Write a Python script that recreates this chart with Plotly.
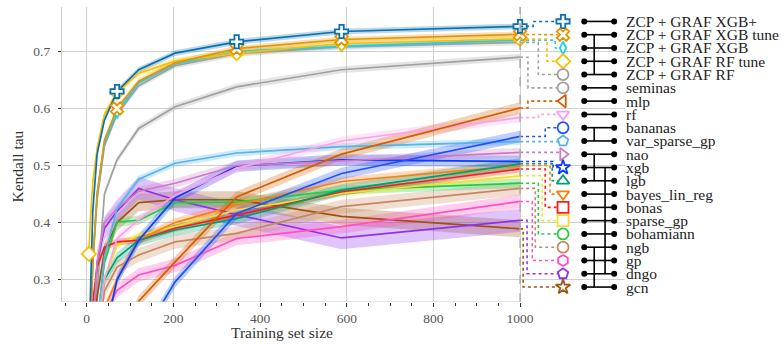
import plotly.graph_objects as go

# ---------------- data ----------------
train_sizes = [5, 8, 14, 24, 41, 70, 120, 204, 346, 588, 1000]

zcp_graf_xgb_plus = [0.10, 0.26, 0.42, 0.52, 0.580, 0.630, 0.668, 0.697, 0.717, 0.735, 0.744]
zcp_graf_xgb_tune = [0.05, 0.20, 0.33, 0.45, 0.545, 0.600, 0.648, 0.680, 0.705, 0.721, 0.730]
zcp_graf_xgb = [0.05, 0.20, 0.33, 0.45, 0.540, 0.593, 0.645, 0.678, 0.700, 0.709, 0.720]
zcp_graf_rf_tune = [0.345, 0.40, 0.47, 0.53, 0.590, 0.628, 0.662, 0.683, 0.697, 0.714, 0.722]
zcp_graf_rf = [0.05, 0.20, 0.33, 0.44, 0.535, 0.590, 0.640, 0.675, 0.696, 0.708, 0.716]
seminas = [0.00, 0.10, 0.15, 0.28, 0.450, 0.510, 0.565, 0.603, 0.638, 0.668, 0.690]
mlp = [0.00, 0.00, 0.02, 0.05, 0.10, 0.18, 0.262, 0.331, 0.445, 0.520, 0.601]
rf = [0.00, 0.02, 0.10, 0.20, 0.30, 0.372, 0.405, 0.448, 0.495, 0.543, 0.584]
bananas = [0.00, 0.00, 0.00, 0.02, 0.06, 0.12, 0.19, 0.296, 0.416, 0.486, 0.551]
var_sparse_gp = [0.00, 0.02, 0.10, 0.22, 0.34, 0.425, 0.476, 0.504, 0.522, 0.533, 0.542]
nao = [0.00, 0.05, 0.20, 0.33, 0.40, 0.425, 0.455, 0.469, 0.500, 0.508, 0.523]
xgb = [0.00, 0.00, 0.02, 0.10, 0.20, 0.300, 0.369, 0.443, 0.499, 0.510, 0.507]
lgb = [0.00, 0.02, 0.10, 0.20, 0.30, 0.338, 0.369, 0.387, 0.407, 0.457, 0.503]
bayes_lin_reg = [0.00, 0.02, 0.10, 0.18, 0.25, 0.300, 0.370, 0.400, 0.431, 0.472, 0.500]
bonas = [0.00, 0.15, 0.26, 0.322, 0.357, 0.366, 0.369, 0.390, 0.413, 0.454, 0.494]
sparse_gp = [0.00, 0.05, 0.15, 0.24, 0.30, 0.360, 0.378, 0.393, 0.422, 0.451, 0.482]
bohamiann = [0.00, 0.02, 0.10, 0.22, 0.33, 0.401, 0.404, 0.435, 0.436, 0.457, 0.469]
ngb = [0.00, 0.02, 0.10, 0.18, 0.28, 0.322, 0.343, 0.366, 0.381, 0.428, 0.460]
gp = [0.00, 0.02, 0.10, 0.18, 0.24, 0.281, 0.308, 0.325, 0.372, 0.393, 0.437]
dngo = [0.00, 0.05, 0.20, 0.33, 0.39, 0.420, 0.460, 0.440, 0.414, 0.373, 0.404]
gcn = [0.00, 0.05, 0.15, 0.27, 0.35, 0.400, 0.435, 0.440, 0.440, 0.411, 0.389]

labels = ["ZCP + GRAF XGB+", "ZCP + GRAF XGB tune", "ZCP + GRAF XGB", "ZCP + GRAF RF tune",
          "ZCP + GRAF RF", "seminas", "mlp", "rf", "bananas", "var_sparse_gp", "nao", "xgb",
          "lgb", "bayes_lin_reg", "bonas", "sparse_gp", "bohamiann", "ngb", "gp", "dngo", "gcn"]
series = [zcp_graf_xgb_plus, zcp_graf_xgb_tune, zcp_graf_xgb, zcp_graf_rf_tune, zcp_graf_rf,
          seminas, mlp, rf, bananas, var_sparse_gp, nao, xgb, lgb, bayes_lin_reg, bonas,
          sparse_gp, bohamiann, ngb, gp, dngo, gcn]
band_halfwidth = [0.005, 0.005, 0.004, 0.006, 0.005, 0.006, 0.010, 0.008, 0.010, 0.006, 0.008,
                  0.010, 0.010, 0.008, 0.006, 0.006, 0.008, 0.012, 0.012, 0.020, 0.015]
# critical-difference groups (first row, last row)
cd_groups = [(1, 4), (8, 9), (10, 12), (11, 19), (17, 20)]

# ---------------- style ----------------
colors = ["#0A72B0", "#E69500", "#1CCFF5", "#F7C000", "#A0A0A0", "#A0A0A0", "#D55E00",
          "#FBA2E6", "#1F50FF", "#56B4E9", "#CC7AC4", "#0A3DFF", "#009E73", "#FF7F0E",
          "#FF1A1A", "#EEE030", "#22CC44", "#C8875E", "#FF4FC0", "#9030F0", "#A0520F"]
symbols = ["cross", "x", "diamond-tall", "diamond", "circle", "circle", "triangle-left",
           "triangle-down", "circle", "pentagon", "triangle-right", "star", "triangle-up",
           "triangle-down", "square", "square", "circle", "circle", "hexagon", "pentagon", "star"]
connector_x = [1030, 1009, 1081, 1062, 1042, 1018, 1018, 1042, 1058, 1090, 1090, 1076, 1074,
               1069, 1058, 1051, 1042, 1035, 1028, 1016, 1007]
draw_order = [4, 5, 20, 19, 18, 17, 16, 15, 14, 13, 12, 11, 10, 9, 8, 7, 6, 2, 3, 1, 0]
line_marker_idx = [0, 5, 8, 9, 10]

SERIF = "Liberation Serif, Times New Roman, DejaVu Serif, serif"
Y_MIN, Y_MAX = 0.2607, 0.778
X_MIN, X_MAX = -57, 1242
LEG_MARK_X, CD_X0, CD_X1, LABEL_X = 1099, 1148, 1217, 1240
CD_BAR_X = [1171, 1171, 1171, 1196, 1171]
ROW_TOP, ROW_STEP = 0.7527, 0.02329
W, H = 784, 344


def rgba(hexc, a):
    h = hexc.lstrip("#")
    return "rgba(%d,%d,%d,%.2f)" % (int(h[0:2], 16), int(h[2:4], 16), int(h[4:6], 16), a)


fig = go.Figure()

# bands
for i in draw_order:
    ys = series[i]
    hw = band_halfwidth[i]
    up = [v + hw for v in ys]
    lo = [v - hw for v in ys]
    fig.add_trace(go.Scatter(x=train_sizes + train_sizes[::-1], y=up + lo[::-1], fill="toself",
                             fillcolor=rgba(colors[i], 0.28), line=dict(width=0),
                             hoverinfo="skip", showlegend=False))
# lines
for i in draw_order:
    fig.add_trace(go.Scatter(x=train_sizes, y=series[i], mode="lines",
                             line=dict(color=colors[i], width=1.7), showlegend=False))
# markers on top series
for i in [2, 3, 1, 0]:
    fig.add_trace(go.Scatter(
        x=[train_sizes[k] for k in line_marker_idx], y=[series[i][k] for k in line_marker_idx],
        mode="markers", showlegend=False,
        marker=dict(symbol=symbols[i], size=11 if i != 2 else 8, color="white",
                    line=dict(color=colors[i], width=1.8))))

row_y = [ROW_TOP - k * ROW_STEP for k in range(len(labels))]

# connectors
for i in range(len(labels)):
    end = series[i][-1]
    fig.add_trace(go.Scatter(x=[train_sizes[-1], connector_x[i], connector_x[i], LEG_MARK_X - 12],
                             y=[end, end, row_y[i], row_y[i]], mode="lines",
                             line=dict(color=colors[i], width=1.6, dash="dot"),
                             showlegend=False, hoverinfo="skip"))
# legend markers
for i in range(len(labels)):
    fig.add_trace(go.Scatter(x=[LEG_MARK_X], y=[row_y[i]], mode="markers", showlegend=False,
                             cliponaxis=False,
                             marker=dict(symbol=symbols[i], size=11 if i != 2 else 9,
                                         color="white", line=dict(color=colors[i], width=1.8))))
# CD diagram
for i in range(len(labels)):
    fig.add_trace(go.Scatter(x=[CD_X0, CD_X1], y=[row_y[i], row_y[i]], mode="lines+markers",
                             cliponaxis=False, showlegend=False,
                             line=dict(color="black", width=1.6),
                             marker=dict(color="black", size=6)))
for (a, b), bx in zip(cd_groups, CD_BAR_X):
    fig.add_trace(go.Scatter(x=[bx, bx], y=[row_y[a], row_y[b]], mode="lines", showlegend=False,
                             line=dict(color="black", width=1.6)))

annotations = []
for i, lab in enumerate(labels):
    annotations.append(dict(x=LABEL_X, y=row_y[i], xref="x", yref="y", text=lab, showarrow=False,
                            xanchor="left", yanchor="middle",
                            font=dict(family=SERIF, size=15.5, color="#222222")))
annotations.append(dict(x=281.5 / W, y=-0.105, xref="paper", yref="paper",
                        text="Training set size", showarrow=False, xanchor="center",
                        yanchor="middle", font=dict(family=SERIF, size=15.5, color="#333333")))
annotations.append(dict(x=17.5 / W, y=0.4576, xref="paper", yref="paper", text="Kendall tau",
                        showarrow=False, textangle=-90, xanchor="center", yanchor="middle",
                        font=dict(family=SERIF, size=15.5, color="#333333")))

shapes = [
    dict(type="line", xref="x", yref="y", x0=1000, x1=1000, y0=Y_MIN, y1=Y_MAX,
         line=dict(color="#aaaaaa", width=1.5, dash="dash"), layer="above"),
    dict(type="line", xref="x", yref="y", x0=X_MIN, x1=1000, y0=Y_MIN, y1=Y_MIN,
         line=dict(color="#cccccc", width=1.2), layer="above"),
]

fig.update_layout(
    width=W, height=H, margin=dict(l=0, r=0, t=7, b=42),
    paper_bgcolor="white", plot_bgcolor="white",
    font=dict(family=SERIF),
    annotations=annotations, shapes=shapes,
    xaxis=dict(domain=[62 / W, 625 / W], range=[X_MIN, X_MAX],
               tickvals=[0, 200, 400, 600, 800, 1000], ticktext=["0", "200", "400", "600", "800", "1000"],
               showgrid=True, gridcolor="#d0d0d0", gridwidth=1, zeroline=False, showline=False,
               ticks="outside", ticklen=4, tickcolor="#333333", tickwidth=1,
               tickfont=dict(family=SERIF, size=13.5, color="#555555"),
               minor=dict(tickvals=[-50, 50, 100, 150, 250, 300, 350, 450, 500, 550, 650, 700,
                                    750, 850, 900, 950],
                          ticks="outside", ticklen=3, tickcolor="#333333", showgrid=False)),
    yaxis=dict(range=[Y_MIN, Y_MAX], tickvals=[0.3, 0.4, 0.5, 0.6, 0.7],
               ticktext=["0.3", "0.4", "0.5", "0.6", "0.7"],
               showgrid=True, gridcolor="#d0d0d0", gridwidth=1, zeroline=False,
               showline=True, linecolor="#cccccc", linewidth=1.2,
               ticks="outside", ticklen=3, tickcolor="#333333", ticklabelstandoff=5,
               tickfont=dict(family=SERIF, size=13.5, color="#555555")),
)

fig.write_html("out.html", config={"displayModeBar": False},
               post_script="document.body.style.margin='0';")
